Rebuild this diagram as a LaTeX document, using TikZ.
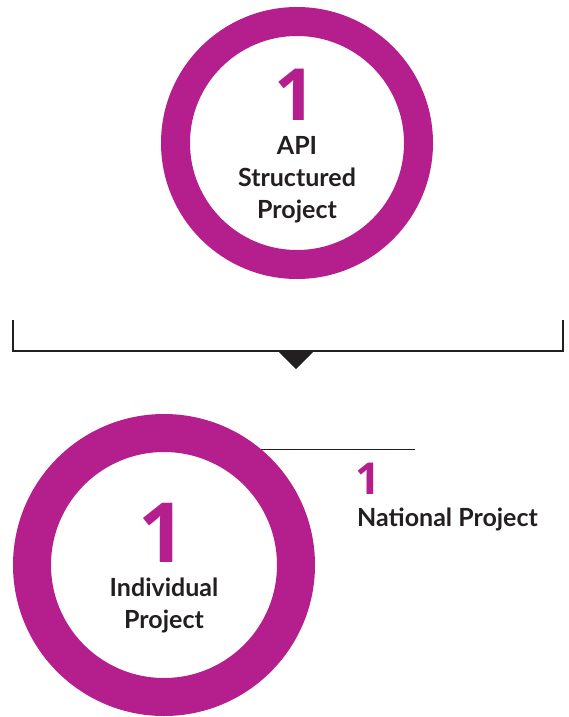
\documentclass[tikz,border=0pt]{standalone}
\usepackage{fontspec}
\setmainfont{Lato}
\newfontfamily\digitfont{Open Sans}
\usepackage{xcolor}
\usetikzlibrary{positioning,calc}
\definecolor{ringpink}{RGB}{181,31,141}
\definecolor{inkgray}{RGB}{35,31,32}

\begin{document}
\begin{tikzpicture}[x=1pt,y=-1pt,
    ring/.style={circle,draw=ringpink,fill=white,inner sep=0pt},
    bignum/.style={text=ringpink,inner sep=0pt,anchor=base,font=\digitfont\bfseries\fontsize{#1}{#1}\selectfont},
    caption/.style={text=inkgray,inner sep=0pt,align=center,font=\bfseries\fontsize{25}{32}\selectfont}]
  \useasboundingbox (0,0) rectangle (569,717);
  % leader line to the second entry, hidden under the ring
  \coordinate (leadend) at (415,449);
  \draw[inkgray,line width=1pt] (200,449) -- (leadend);
  % rings
  \node[ring,line width=29pt,minimum size=243pt] (api) at (297,143) {};
  \node[ring,line width=38pt,minimum size=264pt] (indiv) at (164,565) {};
  \node[bignum=72] (apinum) at (295,120) {1};
  \node[caption,anchor=base] (apitext) at (297,218) {API\\Structured\\Project};
  \node[bignum=83] (indivnum) at (162,562) {1};
  \node[caption,anchor=base] (indivtext) at (164,628) {Individual\\Project};
  % national entry
  \node[bignum=44,anchor=base west] (natnum) at (355,494) {1};
  \node[caption,anchor=base west] (nattext) at (357,526) {National Project};
  % bracket and arrow head
  \coordinate (brl) at (13,320);
  \coordinate (brr) at (563,320);
  \coordinate (brmid) at (296,351);
  \draw[inkgray,line width=1.2pt] (brl) |- (brmid) -| (brr);
  \fill[inkgray] ($(brmid)+(-18,0)$) -- ($(brmid)+(18,0)$) -- ($(brmid)+(0,18)$) -- cycle;
\end{tikzpicture}
\end{document}
